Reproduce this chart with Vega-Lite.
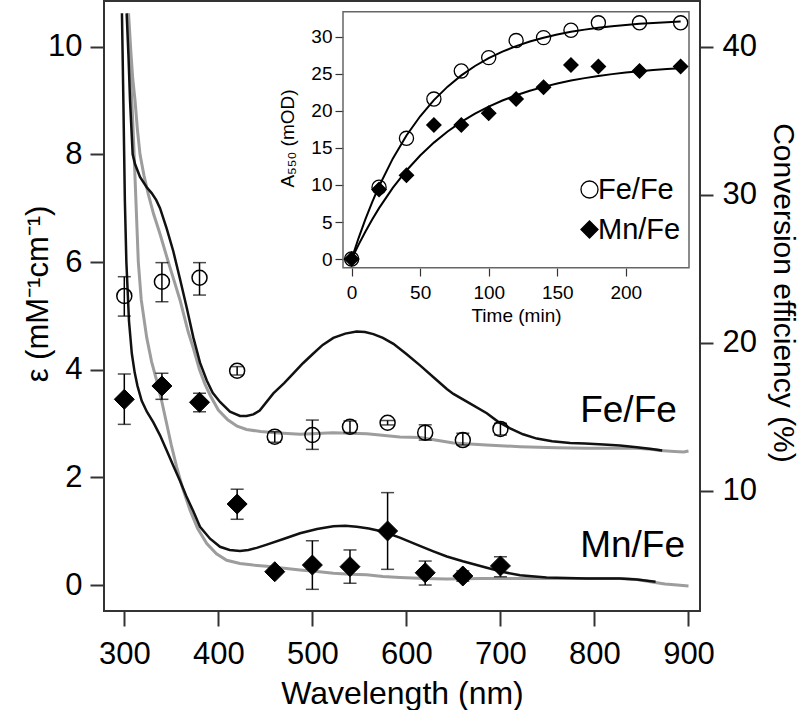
{
  "$schema": "https://vega.github.io/schema/vega-lite/v6.json",
  "width": 596,
  "height": 610,
  "autosize": {"type": "none"},
  "padding": {"left": 104, "top": 1, "right": 100, "bottom": 99},
  "background": "white",
  "config": {
    "view": {"stroke": "#333333", "strokeWidth": 2},
    "font": "Liberation Sans",
    "axis": {"grid": false, "domain": false, "tickColor": "#333333", "labelColor": "black", "titleColor": "black", "titleFontWeight": "normal", "labelFont": "Liberation Sans", "titleFont": "Liberation Sans", "labelFlush": false, "labelOverlap": false}
  },
  "datasets": {
    "gray": [
      {"s":"Fe","wl":304.5,"eps":10.62},{"s":"Fe","wl":307,"eps":9.9},{"s":"Fe","wl":309,"eps":9.4},{"s":"Fe","wl":311.4,"eps":9.0},{"s":"Fe","wl":314,"eps":8.45},{"s":"Fe","wl":316.7,"eps":8.0},{"s":"Fe","wl":321,"eps":7.6},{"s":"Fe","wl":325.5,"eps":7.26},{"s":"Fe","wl":331,"eps":6.9},{"s":"Fe","wl":338,"eps":6.52},{"s":"Fe","wl":346.8,"eps":6.0},{"s":"Fe","wl":353,"eps":5.65},{"s":"Fe","wl":359.3,"eps":5.29},{"s":"Fe","wl":368,"eps":4.7},{"s":"Fe","wl":373.4,"eps":4.4},{"s":"Fe","wl":380,"eps":4.0},{"s":"Fe","wl":386,"eps":3.72},{"s":"Fe","wl":392,"eps":3.5},{"s":"Fe","wl":400,"eps":3.25},{"s":"Fe","wl":410,"eps":3.07},{"s":"Fe","wl":420,"eps":2.95},{"s":"Fe","wl":430,"eps":2.89},{"s":"Fe","wl":445,"eps":2.85},{"s":"Fe","wl":460,"eps":2.83},{"s":"Fe","wl":487,"eps":2.8},{"s":"Fe","wl":522,"eps":2.83},{"s":"Fe","wl":558,"eps":2.81},{"s":"Fe","wl":593,"eps":2.75},{"s":"Fe","wl":615,"eps":2.74},{"s":"Fe","wl":629,"eps":2.7},{"s":"Fe","wl":650,"eps":2.64},{"s":"Fe","wl":685,"eps":2.6},{"s":"Fe","wl":721,"eps":2.57},{"s":"Fe","wl":760,"eps":2.55},{"s":"Fe","wl":792,"eps":2.54},{"s":"Fe","wl":830,"eps":2.54},{"s":"Fe","wl":845,"eps":2.54},{"s":"Fe","wl":860,"eps":2.52},{"s":"Fe","wl":870,"eps":2.5},{"s":"Fe","wl":885,"eps":2.48},{"s":"Fe","wl":895,"eps":2.47},{"s":"Fe","wl":900,"eps":2.49},
      {"s":"Mn","wl":303.5,"eps":10.62},{"s":"Mn","wl":306,"eps":9.7},{"s":"Mn","wl":308,"eps":9.0},{"s":"Mn","wl":310,"eps":8.2},{"s":"Mn","wl":312,"eps":7.3},{"s":"Mn","wl":314.9,"eps":6.0},{"s":"Mn","wl":318,"eps":5.3},{"s":"Mn","wl":323.8,"eps":4.6},{"s":"Mn","wl":329,"eps":4.15},{"s":"Mn","wl":334.4,"eps":3.8},{"s":"Mn","wl":340,"eps":3.4},{"s":"Mn","wl":345,"eps":3.0},{"s":"Mn","wl":350,"eps":2.6},{"s":"Mn","wl":355.7,"eps":2.19},{"s":"Mn","wl":362,"eps":1.8},{"s":"Mn","wl":369.9,"eps":1.39},{"s":"Mn","wl":378,"eps":1.05},{"s":"Mn","wl":387.7,"eps":0.77},{"s":"Mn","wl":398,"eps":0.58},{"s":"Mn","wl":408.9,"eps":0.46},{"s":"Mn","wl":423,"eps":0.4},{"s":"Mn","wl":437,"eps":0.37},{"s":"Mn","wl":451.5,"eps":0.35},{"s":"Mn","wl":470,"eps":0.31},{"s":"Mn","wl":486.9,"eps":0.28},{"s":"Mn","wl":505,"eps":0.25},{"s":"Mn","wl":522.3,"eps":0.22},{"s":"Mn","wl":540,"eps":0.2},{"s":"Mn","wl":557.7,"eps":0.19},{"s":"Mn","wl":575,"eps":0.16},{"s":"Mn","wl":593.2,"eps":0.14},{"s":"Mn","wl":620,"eps":0.12},{"s":"Mn","wl":643,"eps":0.11},{"s":"Mn","wl":680,"eps":0.12},{"s":"Mn","wl":720.9,"eps":0.12},{"s":"Mn","wl":760,"eps":0.12},{"s":"Mn","wl":791.8,"eps":0.12},{"s":"Mn","wl":827,"eps":0.12},{"s":"Mn","wl":845,"eps":0.1},{"s":"Mn","wl":862.8,"eps":0.05},{"s":"Mn","wl":875,"eps":0.02},{"s":"Mn","wl":888,"eps":0.0},{"s":"Mn","wl":900,"eps":-0.02}
    ],
    "black": [
      {"s":"Fe","wl":302.5,"eps":10.62},{"s":"Fe","wl":304.5,"eps":9.8},{"s":"Fe","wl":306.1,"eps":9.0},{"s":"Fe","wl":308.9,"eps":8.0},{"s":"Fe","wl":311.4,"eps":7.82},{"s":"Fe","wl":316.7,"eps":7.58},{"s":"Fe","wl":323.8,"eps":7.39},{"s":"Fe","wl":329.1,"eps":7.28},{"s":"Fe","wl":334,"eps":7.15},{"s":"Fe","wl":338,"eps":7.0},{"s":"Fe","wl":345.1,"eps":6.62},{"s":"Fe","wl":352.1,"eps":6.2},{"s":"Fe","wl":359.3,"eps":5.68},{"s":"Fe","wl":366.4,"eps":5.15},{"s":"Fe","wl":373.4,"eps":4.6},{"s":"Fe","wl":380.5,"eps":4.13},{"s":"Fe","wl":387.7,"eps":3.8},{"s":"Fe","wl":394,"eps":3.57},{"s":"Fe","wl":401.8,"eps":3.4},{"s":"Fe","wl":412.4,"eps":3.22},{"s":"Fe","wl":423,"eps":3.14},{"s":"Fe","wl":430,"eps":3.14},{"s":"Fe","wl":437.2,"eps":3.17},{"s":"Fe","wl":444,"eps":3.24},{"s":"Fe","wl":458.5,"eps":3.56},{"s":"Fe","wl":470,"eps":3.75},{"s":"Fe","wl":479.8,"eps":3.93},{"s":"Fe","wl":490,"eps":4.12},{"s":"Fe","wl":501,"eps":4.3},{"s":"Fe","wl":511,"eps":4.46},{"s":"Fe","wl":522.3,"eps":4.59},{"s":"Fe","wl":535,"eps":4.67},{"s":"Fe","wl":547,"eps":4.71},{"s":"Fe","wl":556,"eps":4.7},{"s":"Fe","wl":564.9,"eps":4.66},{"s":"Fe","wl":575,"eps":4.59},{"s":"Fe","wl":586.2,"eps":4.48},{"s":"Fe","wl":600,"eps":4.29},{"s":"Fe","wl":614.5,"eps":4.08},{"s":"Fe","wl":630,"eps":3.84},{"s":"Fe","wl":643,"eps":3.64},{"s":"Fe","wl":650,"eps":3.55},{"s":"Fe","wl":667,"eps":3.38},{"s":"Fe","wl":685.5,"eps":3.19},{"s":"Fe","wl":697,"eps":3.04},{"s":"Fe","wl":710.3,"eps":2.91},{"s":"Fe","wl":724,"eps":2.8},{"s":"Fe","wl":738.7,"eps":2.72},{"s":"Fe","wl":755,"eps":2.67},{"s":"Fe","wl":774.1,"eps":2.64},{"s":"Fe","wl":790,"eps":2.63},{"s":"Fe","wl":809.6,"eps":2.61},{"s":"Fe","wl":827,"eps":2.59},{"s":"Fe","wl":845,"eps":2.56},{"s":"Fe","wl":862.8,"eps":2.52},{"s":"Fe","wl":872,"eps":2.5},
      {"s":"Mn","wl":297.5,"eps":10.62},{"s":"Mn","wl":299,"eps":9.0},{"s":"Mn","wl":300.6,"eps":7.14},{"s":"Mn","wl":302.2,"eps":6.0},{"s":"Mn","wl":305,"eps":4.9},{"s":"Mn","wl":308,"eps":4.3},{"s":"Mn","wl":311,"eps":3.95},{"s":"Mn","wl":314,"eps":3.7},{"s":"Mn","wl":318.5,"eps":3.42},{"s":"Mn","wl":324,"eps":3.22},{"s":"Mn","wl":330.9,"eps":3.02},{"s":"Mn","wl":338,"eps":2.78},{"s":"Mn","wl":345.1,"eps":2.5},{"s":"Mn","wl":352,"eps":2.22},{"s":"Mn","wl":359.3,"eps":1.93},{"s":"Mn","wl":366,"eps":1.65},{"s":"Mn","wl":373.4,"eps":1.37},{"s":"Mn","wl":380.5,"eps":1.08},{"s":"Mn","wl":391.2,"eps":0.86},{"s":"Mn","wl":401.8,"eps":0.71},{"s":"Mn","wl":412,"eps":0.65},{"s":"Mn","wl":423,"eps":0.63},{"s":"Mn","wl":432,"eps":0.65},{"s":"Mn","wl":440.8,"eps":0.69},{"s":"Mn","wl":451.5,"eps":0.75},{"s":"Mn","wl":470,"eps":0.86},{"s":"Mn","wl":486.9,"eps":0.96},{"s":"Mn","wl":505,"eps":1.04},{"s":"Mn","wl":522.3,"eps":1.09},{"s":"Mn","wl":535,"eps":1.1},{"s":"Mn","wl":547.2,"eps":1.08},{"s":"Mn","wl":560,"eps":1.05},{"s":"Mn","wl":575.6,"eps":0.99},{"s":"Mn","wl":593,"eps":0.88},{"s":"Mn","wl":611,"eps":0.75},{"s":"Mn","wl":628,"eps":0.63},{"s":"Mn","wl":643,"eps":0.53},{"s":"Mn","wl":660,"eps":0.44},{"s":"Mn","wl":685.5,"eps":0.32},{"s":"Mn","wl":703,"eps":0.24},{"s":"Mn","wl":720.9,"eps":0.18},{"s":"Mn","wl":749,"eps":0.14},{"s":"Mn","wl":791.8,"eps":0.12},{"s":"Mn","wl":827,"eps":0.12},{"s":"Mn","wl":845,"eps":0.1},{"s":"Mn","wl":865,"eps":0.06}
    ],
    "labels": [
      {"label":"Fe/Fe","wl":784.8,"eps":3.02},
      {"label":"Mn/Fe","wl":784.8,"eps":0.525}
    ],
    "conv": [
      {"sample":"Fe/Fe","wl":300,"conv":23.17,"lo":21.81,"hi":24.47},
      {"sample":"Fe/Fe","wl":340,"conv":24.13,"lo":22.78,"hi":25.42},
      {"sample":"Fe/Fe","wl":380,"conv":24.4,"lo":23.23,"hi":25.42},
      {"sample":"Fe/Fe","wl":420,"conv":18.12,"lo":17.83,"hi":18.4},
      {"sample":"Fe/Fe","wl":460,"conv":13.67,"lo":13.29,"hi":14.0},
      {"sample":"Fe/Fe","wl":500,"conv":13.78,"lo":12.81,"hi":14.79},
      {"sample":"Fe/Fe","wl":540,"conv":14.34,"lo":13.94,"hi":14.73},
      {"sample":"Fe/Fe","wl":580,"conv":14.61,"lo":14.46,"hi":14.76},
      {"sample":"Fe/Fe","wl":620,"conv":13.94,"lo":13.44,"hi":14.47},
      {"sample":"Fe/Fe","wl":660,"conv":13.44,"lo":13.1,"hi":13.9},
      {"sample":"Fe/Fe","wl":700,"conv":14.19,"lo":13.78,"hi":14.57},
      {"sample":"Mn/Fe","wl":300,"conv":16.19,"lo":14.5,"hi":17.9},
      {"sample":"Mn/Fe","wl":340,"conv":17.09,"lo":16.19,"hi":17.95},
      {"sample":"Mn/Fe","wl":380,"conv":15.99,"lo":15.35,"hi":16.6},
      {"sample":"Mn/Fe","wl":420,"conv":9.12,"lo":8.09,"hi":10.12},
      {"sample":"Mn/Fe","wl":460,"conv":4.55,"lo":4.45,"hi":4.65},
      {"sample":"Mn/Fe","wl":500,"conv":5.0,"lo":3.36,"hi":6.64},
      {"sample":"Mn/Fe","wl":540,"conv":4.89,"lo":3.77,"hi":6.02},
      {"sample":"Mn/Fe","wl":580,"conv":7.3,"lo":4.71,"hi":9.89},
      {"sample":"Mn/Fe","wl":620,"conv":4.48,"lo":3.65,"hi":5.27},
      {"sample":"Mn/Fe","wl":660,"conv":4.26,"lo":3.91,"hi":4.61},
      {"sample":"Mn/Fe","wl":700,"conv":4.94,"lo":4.21,"hi":5.56}
    ],
    "fits": [
      {"sample":"Fe/Fe","t":0,"A":0},{"sample":"Fe/Fe","t":5,"A":2.8},{"sample":"Fe/Fe","t":10,"A":5.35},{"sample":"Fe/Fe","t":15,"A":7.69},{"sample":"Fe/Fe","t":20,"A":9.83},{"sample":"Fe/Fe","t":30,"A":13.56},{"sample":"Fe/Fe","t":40,"A":16.68},{"sample":"Fe/Fe","t":50,"A":19.28},{"sample":"Fe/Fe","t":60,"A":21.46},{"sample":"Fe/Fe","t":70,"A":23.28},{"sample":"Fe/Fe","t":80,"A":24.8},{"sample":"Fe/Fe","t":90,"A":26.07},{"sample":"Fe/Fe","t":100,"A":27.13},{"sample":"Fe/Fe","t":110,"A":28.01},{"sample":"Fe/Fe","t":120,"A":28.75},{"sample":"Fe/Fe","t":130,"A":29.37},{"sample":"Fe/Fe","t":140,"A":29.88},{"sample":"Fe/Fe","t":150,"A":30.32},{"sample":"Fe/Fe","t":160,"A":30.68},{"sample":"Fe/Fe","t":170,"A":30.98},{"sample":"Fe/Fe","t":180,"A":31.23},{"sample":"Fe/Fe","t":190,"A":31.44},{"sample":"Fe/Fe","t":200,"A":31.61},{"sample":"Fe/Fe","t":210,"A":31.76},{"sample":"Fe/Fe","t":220,"A":31.88},{"sample":"Fe/Fe","t":230,"A":31.98},{"sample":"Fe/Fe","t":240,"A":32.07},
      {"sample":"Mn/Fe","t":0,"A":0},{"sample":"Mn/Fe","t":5,"A":1.91},{"sample":"Mn/Fe","t":10,"A":3.69},{"sample":"Mn/Fe","t":15,"A":5.34},{"sample":"Mn/Fe","t":20,"A":6.87},{"sample":"Mn/Fe","t":30,"A":9.6},{"sample":"Mn/Fe","t":40,"A":11.96},{"sample":"Mn/Fe","t":50,"A":13.98},{"sample":"Mn/Fe","t":60,"A":15.72},{"sample":"Mn/Fe","t":70,"A":17.23},{"sample":"Mn/Fe","t":80,"A":18.52},{"sample":"Mn/Fe","t":90,"A":19.63},{"sample":"Mn/Fe","t":100,"A":20.59},{"sample":"Mn/Fe","t":110,"A":21.41},{"sample":"Mn/Fe","t":120,"A":22.12},{"sample":"Mn/Fe","t":130,"A":22.73},{"sample":"Mn/Fe","t":140,"A":23.25},{"sample":"Mn/Fe","t":150,"A":23.71},{"sample":"Mn/Fe","t":160,"A":24.1},{"sample":"Mn/Fe","t":170,"A":24.43},{"sample":"Mn/Fe","t":180,"A":24.72},{"sample":"Mn/Fe","t":190,"A":24.97},{"sample":"Mn/Fe","t":200,"A":25.18},{"sample":"Mn/Fe","t":210,"A":25.36},{"sample":"Mn/Fe","t":220,"A":25.52},{"sample":"Mn/Fe","t":230,"A":25.66},{"sample":"Mn/Fe","t":240,"A":25.78}
    ],
    "kinetics": [
      {"sample":"Fe/Fe","t":0,"A":0},{"sample":"Fe/Fe","t":20,"A":9.7},{"sample":"Fe/Fe","t":40,"A":16.3},{"sample":"Fe/Fe","t":60,"A":21.6},{"sample":"Fe/Fe","t":80,"A":25.4},{"sample":"Fe/Fe","t":100,"A":27.2},{"sample":"Fe/Fe","t":120,"A":29.5},{"sample":"Fe/Fe","t":140,"A":29.9},{"sample":"Fe/Fe","t":160,"A":30.9},{"sample":"Fe/Fe","t":180,"A":31.9},{"sample":"Fe/Fe","t":210,"A":31.9},{"sample":"Fe/Fe","t":240,"A":31.9},
      {"sample":"Mn/Fe","t":0,"A":0},{"sample":"Mn/Fe","t":20,"A":9.4},{"sample":"Mn/Fe","t":40,"A":11.3},{"sample":"Mn/Fe","t":60,"A":18.1},{"sample":"Mn/Fe","t":80,"A":18.1},{"sample":"Mn/Fe","t":100,"A":19.7},{"sample":"Mn/Fe","t":120,"A":21.6},{"sample":"Mn/Fe","t":140,"A":23.2},{"sample":"Mn/Fe","t":160,"A":26.2},{"sample":"Mn/Fe","t":180,"A":26.0},{"sample":"Mn/Fe","t":210,"A":25.4},{"sample":"Mn/Fe","t":240,"A":26.0}
    ]
  },
  "layer": [
    {
      "encoding": {
        "x": {"field": "wl", "type": "quantitative", "scale": {"domain": [278.41, 912.23], "nice": false, "zero": false},
          "axis": {"values": [300, 400, 500, 600, 700, 800, 900], "title": "Wavelength (nm)", "tickSize": 15, "tickWidth": 2, "labelFontSize": 31, "labelBaseline": "alphabetic", "labelPadding": 37, "titleFontSize": 32, "titleBaseline": "alphabetic", "titleY": 92}},
        "y": {"field": "eps", "type": "quantitative", "scale": {"domain": [-0.483, 10.849], "nice": false, "zero": false},
          "axis": {"values": [0, 2, 4, 6, 8, 10], "title": "ε (mM⁻¹cm⁻¹)", "tickSize": 14, "tickWidth": 2, "labelFontSize": 31, "labelPadding": 8, "titleFontSize": 31, "titleBaseline": "alphabetic", "titleAngle": 270, "titleX": -57, "titleY": 292.5}}
      },
      "layer": [
        {"data": {"name": "gray"}, "mark": {"type": "line", "color": "#9d9d9d", "strokeWidth": 3}, "encoding": {"detail": {"field": "s"}}},
        {"data": {"name": "black"}, "mark": {"type": "line", "color": "#111111", "strokeWidth": 2.5}, "encoding": {"detail": {"field": "s"}}},
        {"data": {"name": "labels"}, "mark": {"type": "text", "align": "left", "baseline": "alphabetic", "fontSize": 37, "font": "Liberation Sans", "color": "black"}, "encoding": {"text": {"field": "label"}}}
      ]
    },
    {
      "data": {"name": "conv"},
      "encoding": {
        "x": {"field": "wl", "type": "quantitative", "scale": {"domain": [278.41, 912.23], "nice": false, "zero": false}, "axis": null}
      },
      "layer": [
        {"mark": {"type": "rule", "color": "black", "strokeWidth": 1.5},
          "encoding": {
            "y": {"field": "lo", "type": "quantitative", "scale": {"domain": [1.897, 43.086], "nice": false, "zero": false},
              "axis": {"orient": "right", "values": [10, 20, 30, 40], "title": "Conversion efficiency (%)", "tickSize": 13, "tickWidth": 2, "labelFontSize": 31, "labelPadding": 9, "titleFontSize": 30, "titleBaseline": "alphabetic", "titleAngle": 90, "titleX": 73, "titleY": 291.5}},
            "y2": {"field": "hi"}
          }},
        {"mark": {"type": "tick", "orient": "horizontal", "color": "black", "size": 13, "thickness": 1.5},
          "encoding": {
            "y": {"field": "lo", "type": "quantitative", "scale": {"domain": [1.897, 43.086], "nice": false, "zero": false},
              "axis": {"orient": "right", "values": [10, 20, 30, 40], "title": "Conversion efficiency (%)", "tickSize": 13, "tickWidth": 2, "labelFontSize": 31, "labelPadding": 9, "titleFontSize": 30, "titleBaseline": "alphabetic", "titleAngle": 90, "titleX": 73, "titleY": 291.5}}
          }},
        {"mark": {"type": "tick", "orient": "horizontal", "color": "black", "size": 13, "thickness": 1.5},
          "encoding": {
            "y": {"field": "hi", "type": "quantitative", "scale": {"domain": [1.897, 43.086], "nice": false, "zero": false},
              "axis": {"orient": "right", "values": [10, 20, 30, 40], "title": "Conversion efficiency (%)", "tickSize": 13, "tickWidth": 2, "labelFontSize": 31, "labelPadding": 9, "titleFontSize": 30, "titleBaseline": "alphabetic", "titleAngle": 90, "titleX": 73, "titleY": 291.5}}
          }},
        {"transform": [{"filter": "datum.sample === 'Fe/Fe'"}],
          "mark": {"type": "point", "shape": "circle", "filled": false, "stroke": "black", "strokeWidth": 1.5, "size": 225, "opacity": 1},
          "encoding": {
            "y": {"field": "conv", "type": "quantitative", "scale": {"domain": [1.897, 43.086], "nice": false, "zero": false},
              "axis": {"orient": "right", "values": [10, 20, 30, 40], "title": "Conversion efficiency (%)", "tickSize": 13, "tickWidth": 2, "labelFontSize": 31, "labelPadding": 9, "titleFontSize": 30, "titleBaseline": "alphabetic", "titleAngle": 90, "titleX": 73, "titleY": 291.5}}
          }},
        {"transform": [{"filter": "datum.sample === 'Mn/Fe'"}],
          "mark": {"type": "point", "shape": "diamond", "filled": true, "fill": "black", "stroke": "black", "strokeWidth": 1, "size": 400, "opacity": 1},
          "encoding": {
            "y": {"field": "conv", "type": "quantitative", "scale": {"domain": [1.897, 43.086], "nice": false, "zero": false},
              "axis": {"orient": "right", "values": [10, 20, 30, 40], "title": "Conversion efficiency (%)", "tickSize": 13, "tickWidth": 2, "labelFontSize": 31, "labelPadding": 9, "titleFontSize": 30, "titleBaseline": "alphabetic", "titleAngle": 90, "titleX": 73, "titleY": 291.5}}
          }}
      ]
    },
    {
      "data": {"values": [{"panel": "inset"}]},
      "mark": {"type": "rect", "fill": "white", "fillOpacity": 0, "stroke": "#666666", "strokeWidth": 1.5},
      "encoding": {
        "x": {"datum": -6.3, "type": "quantitative", "scale": {"domain": [-6.3, 246.1], "range": [239, 585], "nice": false, "zero": false}, "axis": null},
        "x2": {"datum": 246.1},
        "y": {"datum": -1.17, "type": "quantitative", "scale": {"domain": [-1.17, 33.4], "range": [266.7, 10.7], "nice": false, "zero": false}, "axis": null},
        "y2": {"datum": 33.4}
      }
    },
    {
      "encoding": {
        "x": {"field": "t", "type": "quantitative", "scale": {"domain": [-6.3, 246.1], "range": [239, 585], "nice": false, "zero": false},
          "axis": {"orient": "bottom", "offset": -343, "values": [0, 50, 100, 150, 200], "title": "Time (min)", "tickSize": 8, "tickWidth": 1.2, "labelFontSize": 19, "labelBaseline": "alphabetic", "labelPadding": 22, "titleFontSize": 19, "titleBaseline": "alphabetic", "titleY": 53}},
        "y": {"field": "A", "type": "quantitative", "scale": {"domain": [-1.17, 33.4], "range": [266.7, 10.7], "nice": false, "zero": false},
          "axis": {"orient": "left", "offset": -239, "values": [0, 5, 10, 15, 20, 25, 30], "title": "A₅₅₀ (mOD)", "tickSize": 8, "tickWidth": 1.2, "labelFontSize": 19, "labelPadding": 3, "titleFontSize": 19, "titleBaseline": "alphabetic", "titleAngle": 270, "titleX": -50, "titleY": 137}}
      },
      "layer": [
        {"data": {"name": "fits"}, "mark": {"type": "line", "color": "black", "strokeWidth": 2}, "encoding": {"detail": {"field": "sample"}}},
        {"data": {"name": "kinetics"}, "mark": {"type": "point", "filled": true, "strokeWidth": 1.3, "size": 200, "opacity": 1},
          "encoding": {
            "shape": {"field": "sample", "type": "nominal", "scale": {"domain": ["Fe/Fe", "Mn/Fe"], "range": ["circle", "diamond"]},
              "legend": {"orient": "none", "legendX": 471, "legendY": 174, "title": null, "labelFontSize": 29, "labelFont": "Liberation Sans", "labelColor": "black", "symbolSize": 290, "symbolStrokeWidth": 1.3, "rowPadding": 10, "labelOffset": -6, "padding": 0}},
            "fill": {"field": "sample", "type": "nominal", "scale": {"domain": ["Fe/Fe", "Mn/Fe"], "range": ["transparent", "black"]},
              "legend": {"orient": "none", "legendX": 471, "legendY": 174, "title": null, "labelFontSize": 29, "labelFont": "Liberation Sans", "labelColor": "black", "symbolSize": 290, "symbolStrokeWidth": 1.3, "rowPadding": 10, "labelOffset": -6, "padding": 0}},
            "stroke": {"field": "sample", "type": "nominal", "scale": {"domain": ["Fe/Fe", "Mn/Fe"], "range": ["black", "black"]},
              "legend": {"orient": "none", "legendX": 471, "legendY": 174, "title": null, "labelFontSize": 29, "labelFont": "Liberation Sans", "labelColor": "black", "symbolSize": 290, "symbolStrokeWidth": 1.3, "rowPadding": 10, "labelOffset": -6, "padding": 0}}
          }}
      ]
    }
  ],
  "resolve": {"scale": {"x": "independent", "y": "independent"}}
}
